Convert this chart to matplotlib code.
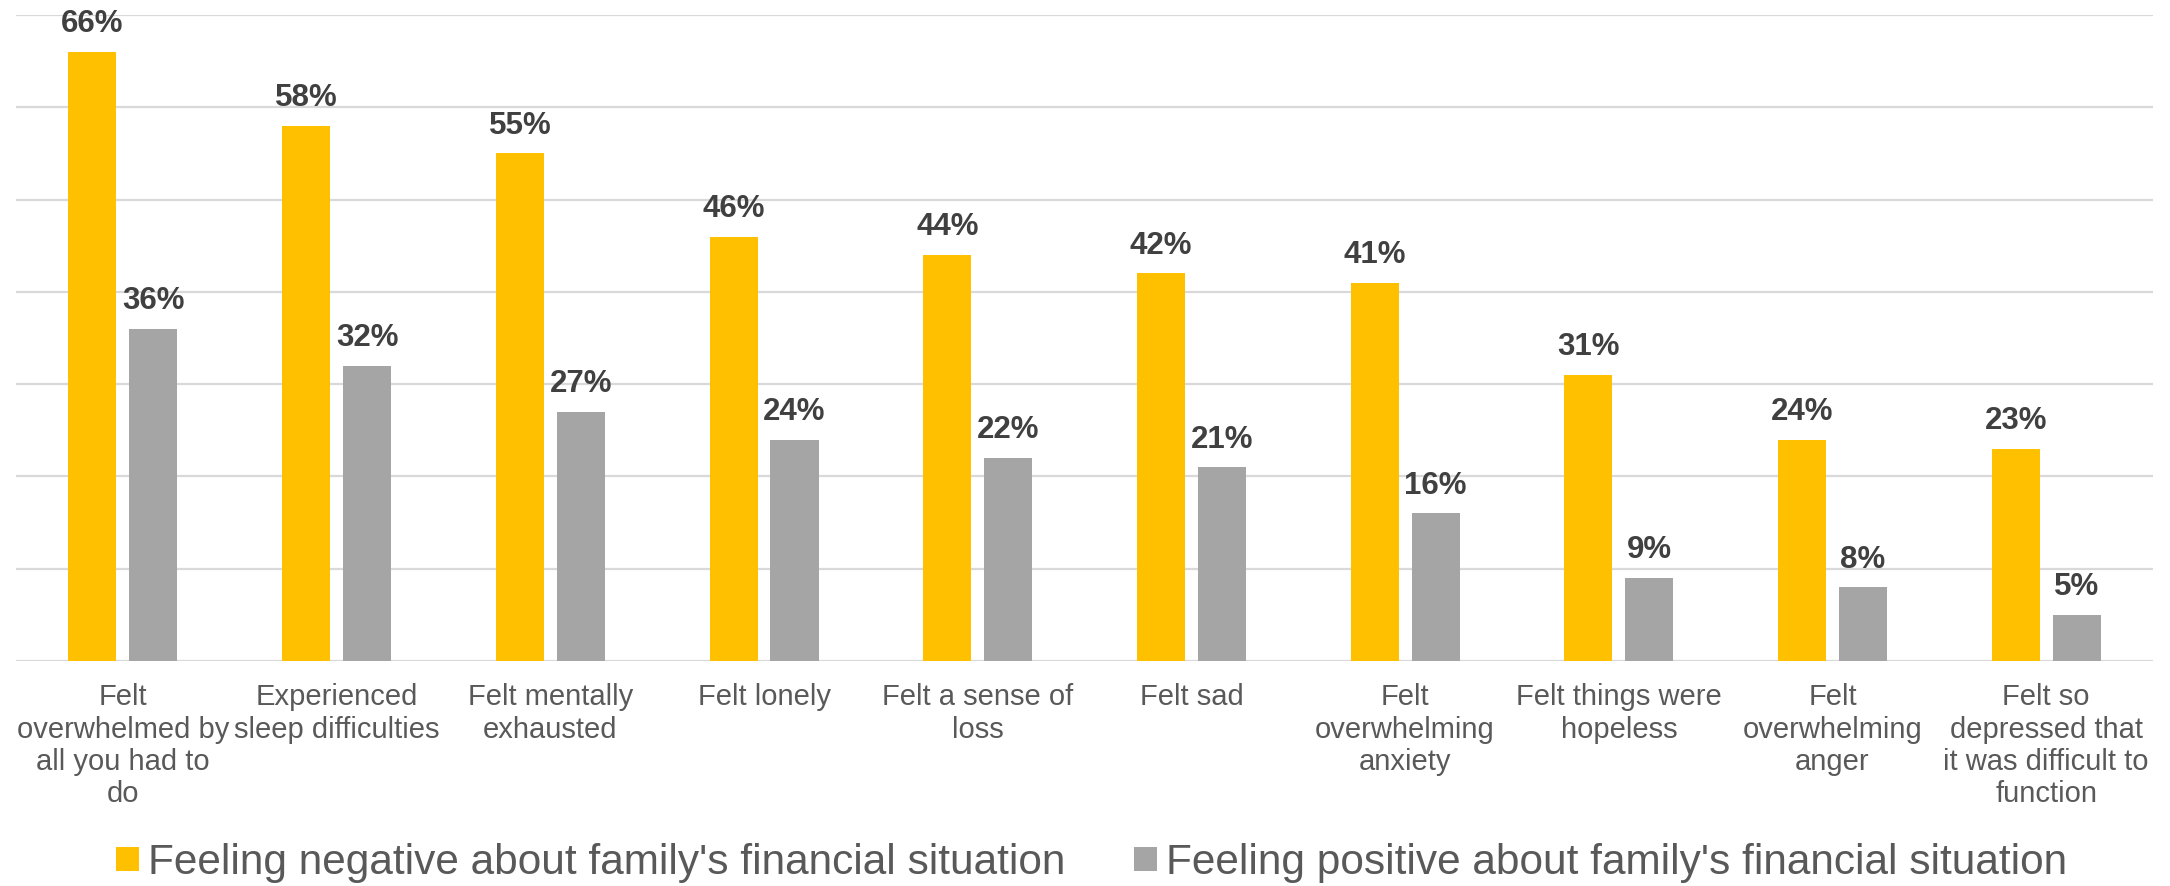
import numpy as np
import matplotlib.pyplot as plt

plt.rcParams['font.family'] = ['Liberation Sans', 'DejaVu Sans']

categories = [
    "Felt\noverwhelmed by\nall you had to\ndo",
    "Experienced\nsleep difficulties",
    "Felt mentally\nexhausted",
    "Felt lonely",
    "Felt a sense of\nloss",
    "Felt sad",
    "Felt\noverwhelming\nanxiety",
    "Felt things were\nhopeless",
    "Felt\noverwhelming\nanger",
    "Felt so\ndepressed that\nit was difficult to\nfunction",
]
negative = [0.66, 0.58, 0.55, 0.46, 0.44, 0.42, 0.41, 0.31, 0.24, 0.23]
positive = [0.36, 0.32, 0.27, 0.24, 0.22, 0.21, 0.16, 0.09, 0.08, 0.05]
series_names = ["Feeling negative about family's financial situation",
                "Feeling positive about family's financial situation"]

yellow = '#FFC000'
grey = '#A5A5A5'

fig = plt.figure(figsize=(21.7, 8.86), dpi=100)
ax = fig.add_axes([0.0074, 0.254, 0.9848, 0.729])

x = np.arange(len(categories))
w = 0.225
off = w / 2 + 0.03
b1 = ax.bar(x - off, negative, w, color=yellow, label=series_names[0], zorder=3)
b2 = ax.bar(x + off, positive, w, color=grey, label=series_names[1], zorder=3)

for bars, vals in ((b1, negative), (b2, positive)):
    for r, v in zip(bars, vals):
        ax.annotate(f"{v:.0%}", (r.get_x() + r.get_width() / 2, v),
                    xytext=(0, 9), textcoords='offset points',
                    ha='center', va='bottom', fontsize=22.5,
                    fontweight='bold', color='#404040')

ax.set_xlim(-0.5, len(categories) - 0.5)
ax.set_ylim(0, 0.7)
ax.set_yticks(np.arange(0, 0.71, 0.1))
ax.yaxis.grid(True, color='#D9D9D9', lw=1.6, zorder=0)
ax.tick_params(axis='y', left=False, labelleft=False)
ax.set_xticks(x)
ax.set_xticklabels(categories, fontsize=21, color='#595959', linespacing=1.2)
ax.tick_params(axis='x', length=0, pad=16)
for s in ax.spines.values():
    s.set_visible(False)

fig.legend(handles=[b1, b2], loc='center', bbox_to_anchor=(0.503, 0.026),
           ncol=2, frameon=False, fontsize=30.5, labelcolor='#595959',
           handlelength=0.55, handleheight=0.52, handletextpad=0.22,
           columnspacing=1.6)

fig.savefig('out.png', dpi=100)
